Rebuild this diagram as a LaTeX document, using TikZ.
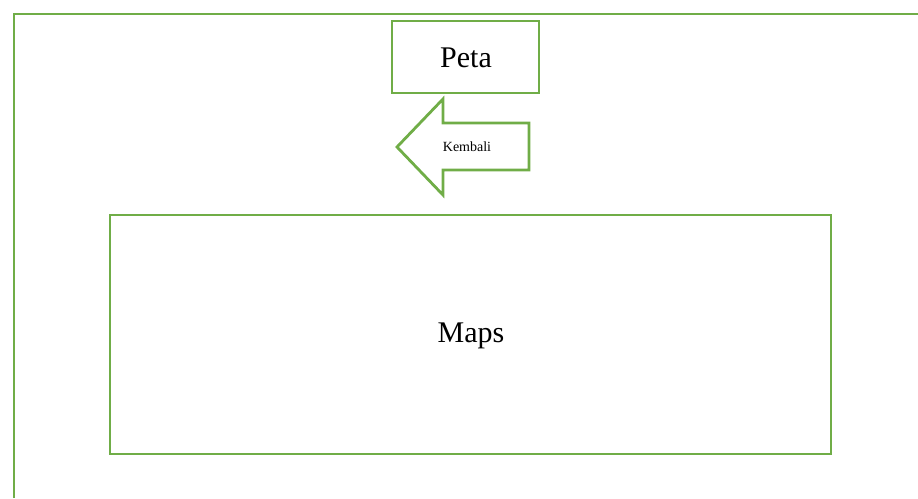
\documentclass[tikz,border=0pt]{standalone}
\usepackage{fontspec}
\setmainfont{Liberation Serif}
\definecolor{frgreen}{HTML}{70AD47}
\begin{document}
\begin{tikzpicture}[x=1pt,y=-1pt,
  gline/.style={draw=frgreen,line width=2.8pt},
  boxstyle/.style={gline,line join=miter}]
\useasboundingbox (0,0) rectangle (918,498);
% outer open frame
\draw[gline] (14,498) -- (14,14) -- (918,14);
% Peta box
\draw[boxstyle] (392,21) rectangle (539,93);
\node (peta) at (466,58) {\fontsize{30}{34}\selectfont Peta};
% back arrow
\draw[boxstyle] (397,147) -- (443,99) -- (443,123) -- (529,123) -- (529,170) -- (443,170) -- (443,195) -- cycle;
\node (kembali) at (467,147) {\fontsize{14}{16}\selectfont Kembali};
% Maps box
\draw[boxstyle] (110,215) rectangle (831,454);
\node (maps) at (471,336) {\fontsize{30}{34}\selectfont Maps};
\end{tikzpicture}
\end{document}
